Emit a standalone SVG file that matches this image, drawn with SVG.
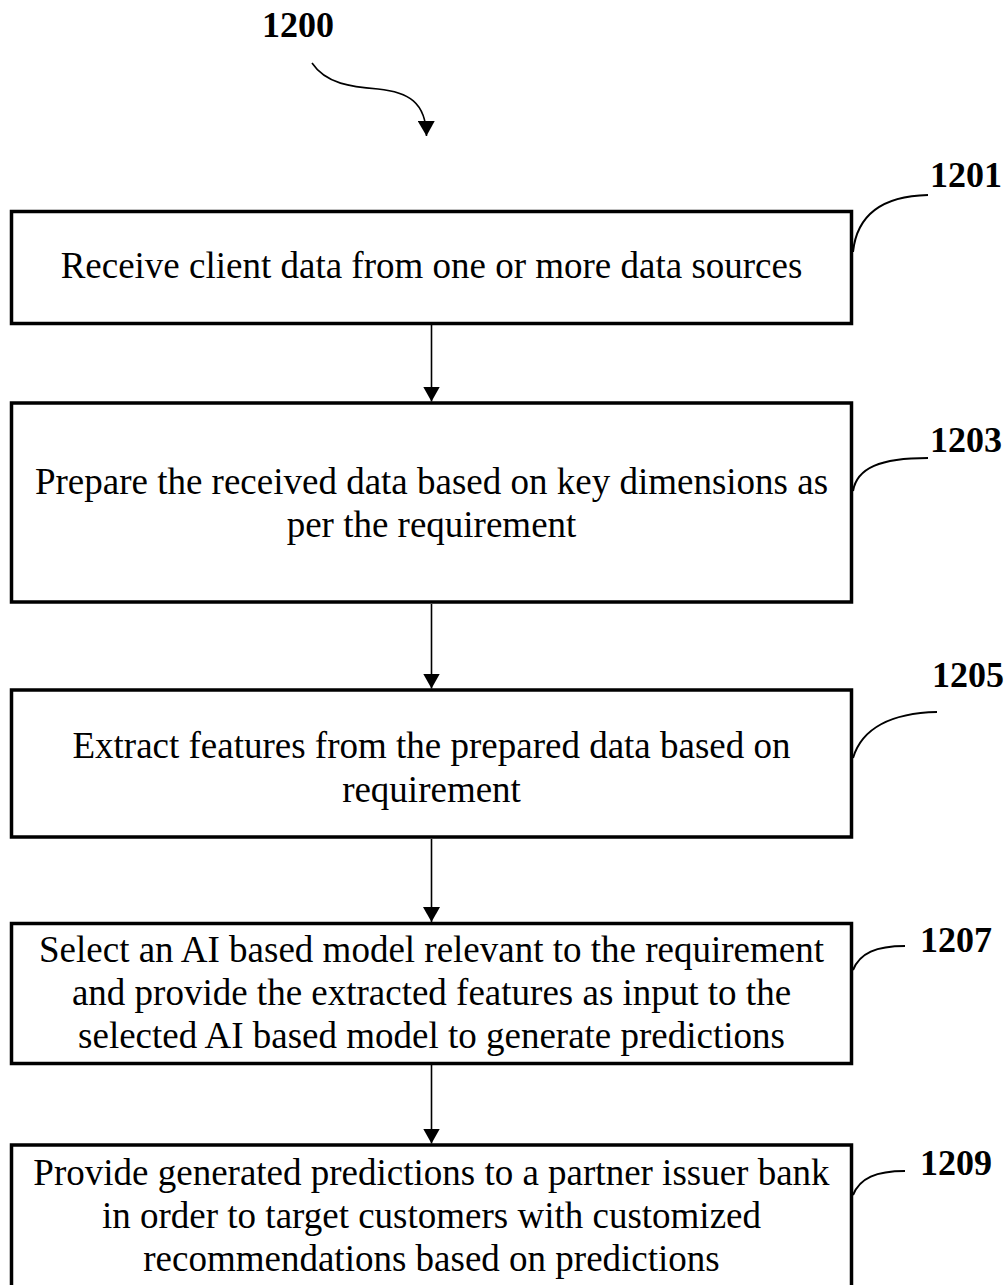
<svg xmlns="http://www.w3.org/2000/svg" width="1006" height="1285" viewBox="0 0 1006 1285">
  <style>
    .box { fill: #ffffff; stroke: #000000; stroke-width: 3.5; }
    .step { font-family: "Liberation Serif", "Times New Roman", serif; font-size: 37px; fill: #000000; text-anchor: middle; }
    .ref { font-family: "Liberation Serif", "Times New Roman", serif; font-size: 36px; font-weight: bold; fill: #000000; }
    .flow { fill: none; stroke: #000000; stroke-width: 1.6; }
    .leader { fill: none; stroke: #000000; stroke-width: 2; }
  </style>
  <defs>
    <marker id="arrowhead" markerUnits="userSpaceOnUse" markerWidth="16" markerHeight="17" refX="15" refY="8.5" orient="auto">
      <path d="M0,0 L15,8.5 L0,17 Z" fill="#000000"/>
    </marker>
  </defs>
  <rect width="1006" height="1285" fill="#ffffff"/>

  <!-- figure reference and entry arrow -->
  <g id="figure-label">
    <text class="ref" x="262" y="37">1200</text>
    <path class="flow" d="M312,63 C326,84 352,87 378,89 C408,92 426,102 426.5,136" marker-end="url(#arrowhead)"/>
  </g>

  <!-- process steps -->
  <g id="step-1201">
    <rect class="box" x="11.5" y="211.5" width="840" height="112"/>
    <text class="step" x="431.5" y="278">Receive client data from one or more data sources</text>
    <path class="leader" d="M853,252 C857,214 884,196 928,195"/>
    <text class="ref" x="930" y="187">1201</text>
  </g>

  <g id="step-1203">
    <rect class="box" x="11.5" y="403" width="840" height="199"/>
    <text class="step" x="431.5" y="494">Prepare the received data based on key dimensions as</text>
    <text class="step" x="431.5" y="537">per the requirement</text>
    <path class="leader" d="M853,491 C857,468 880,458 928,458"/>
    <text class="ref" x="930" y="452">1203</text>
  </g>

  <g id="step-1205">
    <rect class="box" x="11.5" y="690" width="840" height="147"/>
    <text class="step" x="431.5" y="758">Extract features from the prepared data based on</text>
    <text class="step" x="431.5" y="802">requirement</text>
    <path class="leader" d="M853,758 C862,728 892,713 937,712"/>
    <text class="ref" x="932" y="687">1205</text>
  </g>

  <g id="step-1207">
    <rect class="box" x="11.5" y="923.5" width="840" height="140"/>
    <text class="step" x="431.5" y="962">Select an AI based model relevant to the requirement</text>
    <text class="step" x="431.5" y="1005">and provide the extracted features as input to the</text>
    <text class="step" x="431.5" y="1048">selected AI based model to generate predictions</text>
    <path class="leader" d="M853,970 C860,953 876,946 905,946"/>
    <text class="ref" x="920" y="952">1207</text>
  </g>

  <g id="step-1209">
    <rect class="box" x="11.5" y="1145" width="840" height="142"/>
    <text class="step" x="431.5" y="1185">Provide generated predictions to a partner issuer bank</text>
    <text class="step" x="431.5" y="1228">in order to target customers with customized</text>
    <text class="step" x="431.5" y="1271">recommendations based on predictions</text>
    <path class="leader" d="M853,1195 C860,1178 876,1171 905,1171"/>
    <text class="ref" x="920" y="1175">1209</text>
  </g>

  <!-- connectors between steps -->
  <g id="connectors">
    <line class="flow" x1="431.5" y1="325" x2="431.5" y2="401.5" marker-end="url(#arrowhead)"/>
    <line class="flow" x1="431.5" y1="604" x2="431.5" y2="688.5" marker-end="url(#arrowhead)"/>
    <line class="flow" x1="431.5" y1="839" x2="431.5" y2="922" marker-end="url(#arrowhead)"/>
    <line class="flow" x1="431.5" y1="1065" x2="431.5" y2="1143.5" marker-end="url(#arrowhead)"/>
  </g>
</svg>
